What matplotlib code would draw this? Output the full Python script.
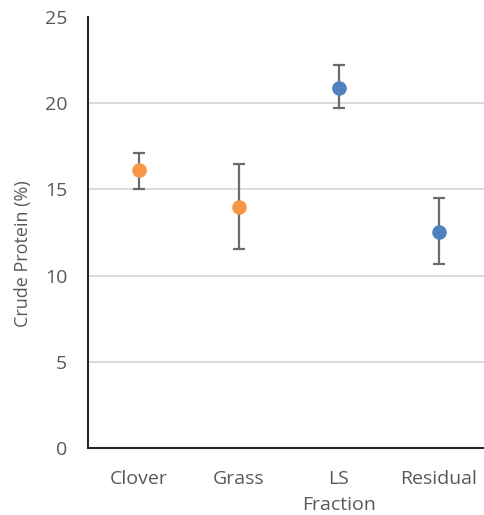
import matplotlib
matplotlib.use("Agg")
import matplotlib.pyplot as plt

# data
categories = ["Clover", "Grass", "LS\nFraction", "Residual"]
protein = [16.1, 14.0, 20.9, 12.55]
err_low = [15.05, 11.55, 19.7, 10.7]
err_high = [17.1, 16.5, 22.2, 14.5]
point_colours = ["#F79646", "#F79646", "#4F81BD", "#4F81BD"]
y_ticks = [0, 5, 10, 15, 20, 25]

plt.rcParams["font.family"] = ["Open Sans", "DejaVu Sans"]
TEXT = "#595959"

fig = plt.figure(figsize=(4.85, 5.15), dpi=100)
ax = fig.add_axes([88 / 485, 1 - 448 / 515, 401 / 485, 431 / 515])

x = list(range(len(categories)))
for i in x:
    lo = protein[i] - err_low[i]
    hi = err_high[i] - protein[i]
    ax.errorbar(i, protein[i], yerr=[[lo], [hi]], fmt="none",
                ecolor="#6b6b6b", elinewidth=1.6, capsize=4.2,
                capthick=1.6, zorder=2)
    ax.plot(i, protein[i], "o", color=point_colours[i], markersize=10.5,
            markeredgewidth=0, zorder=3)

ax.set_xlim(-0.51, 3.5)
ax.set_ylim(0, 25)
ax.set_yticks(y_ticks)
ax.set_xticks(x)
ax.set_xticklabels(categories, fontsize=14, color=TEXT, linespacing=1.55,
                   va="top")
ax.tick_params(axis="y", labelsize=14, labelcolor=TEXT, length=0, pad=15)
ax.tick_params(axis="x", length=0, pad=16)
ax.grid(axis="y", color="#D9D9D9", linewidth=1.3, zorder=0)
ax.set_axisbelow(True)
# no gridline along the top edge in the original
ax.yaxis.get_gridlines()[-1].set_visible(False)
ax.set_ylabel("Crude Protein (%)", fontsize=13, color=TEXT, va="center")
ax.yaxis.set_label_coords((23 - 88) / 401, (448 - 254) / 431)

for spine in ("top", "right"):
    ax.spines[spine].set_visible(False)
for spine in ("left", "bottom"):
    ax.spines[spine].set_color("#262626")
    ax.spines[spine].set_linewidth(1.5)

fig.savefig("out.png", dpi=100)
